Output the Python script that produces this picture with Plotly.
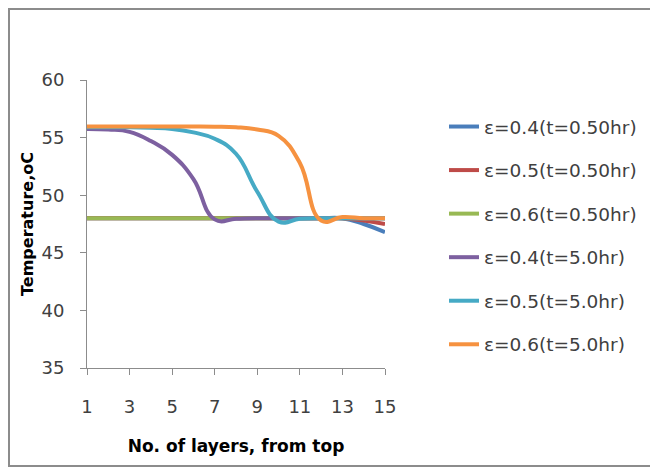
import plotly.graph_objects as go

layers = list(range(1, 16))

eps04_t05 = [48, 48, 48, 48, 48, 48, 48, 48, 48, 48, 48, 48, 48.0, 47.5, 46.8]
eps05_t05 = [48, 48, 48, 48, 48, 48, 48, 48, 48, 48, 48, 48, 48.0, 47.8, 47.5]
eps06_t05 = [48, 48, 48, 48, 48, 48, 48, 48, 48, 48, 48, 48, 48, 48, 48]
eps04_t5 = [55.75, 55.7, 55.5, 54.7, 53.5, 51.4, 47.9, 47.95, 48, 48, 48, 48, 48, 48, 48]
eps05_t5 = [55.9, 55.9, 55.9, 55.85, 55.75, 55.45, 54.9, 53.6, 50.3, 47.7, 47.95, 48, 48, 48, 48]
eps06_t5 = [55.96, 55.96, 55.96, 55.96, 55.96, 55.96, 55.95, 55.9, 55.7, 55.15, 52.8, 47.8, 48.1, 48, 48]

names = ["ε=0.4(t=0.50hr)", "ε=0.5(t=0.50hr)", "ε=0.6(t=0.50hr)",
         "ε=0.4(t=5.0hr)", "ε=0.5(t=5.0hr)", "ε=0.6(t=5.0hr)"]
series = [eps04_t05, eps05_t05, eps06_t05, eps04_t5, eps05_t5, eps06_t5]
colors = ["#4A7EBB", "#BE4B48", "#98B954", "#7D60A0", "#46AAC5", "#F69240"]

y_ticks = [35, 40, 45, 50, 55, 60]
x_ticks = [1, 3, 5, 7, 9, 11, 13, 15]

FONT = "DejaVu Sans"

fig = go.Figure()
for i, (nm, ys, c) in enumerate(zip(names, series, colors)):
    fig.add_trace(go.Scatter(
        x=layers, y=ys, name=nm, mode="lines",
        line=dict(color=c, width=4, shape="spline", smoothing=1.3),
        legendgroup=f"g{i}",
    ))

# page body has an 8px margin, so figure coordinates = page coordinates - 8
OFF = 8
W, H = 658 - OFF, 470 - OFF
L, R, T, B = 87 - OFF, 385 - OFF, 80 - OFF, 368 - OFF
pw, ph = R - L, B - T

def px_x(x):
    return (x - OFF - L) / pw

def px_y(y):
    return (B - (y - OFF)) / ph

fig.update_layout(
    width=W, height=H,
    margin=dict(l=L, r=W - R, t=T, b=H - B, pad=0, autoexpand=False),
    paper_bgcolor="white", plot_bgcolor="white",
    font=dict(family=FONT, size=18, color="#404040"),
    showlegend=True,
    legend=dict(
        x=px_x(444), y=px_y(108), xanchor="left", yanchor="top",
        font=dict(family=FONT, size=18.5, color="#404040"),
        tracegroupgap=16.5, bgcolor="rgba(0,0,0,0)", borderwidth=0,
        itemwidth=30,
    ),
    xaxis=dict(
        range=[1, 15], tickmode="array", tickvals=x_ticks,
        ticktext=[str(v) for v in x_ticks],
        showgrid=False, zeroline=False, automargin=False,
        showline=True, linecolor="#8c8c8c", linewidth=1,
        ticks="outside", ticklen=6, tickcolor="#8c8c8c",
        ticklabelstandoff=16,
        tickfont=dict(family=FONT, size=18, color="#404040"),
        title=dict(text="<b>No. of layers, from top</b>",
                   font=dict(family=FONT, size=17, color="#000000"),
                   standoff=24),
    ),
    yaxis=dict(
        range=[35, 60], tickmode="array", tickvals=y_ticks,
        showgrid=False, zeroline=False, automargin=False,
        showline=True, linecolor="#8c8c8c", linewidth=1,
        ticks="outside", ticklen=6, tickcolor="#8c8c8c",
        ticklabelstandoff=12,
        tickfont=dict(family=FONT, size=18, color="#404040"),
        title=dict(text="<b>Temperature,oC</b>",
                   font=dict(family=FONT, size=16, color="#000000"),
                   standoff=3),
    ),
    shapes=[dict(
        type="rect", xref="paper", yref="paper",
        x0=px_x(9), x1=px_x(664), y0=px_y(466), y1=px_y(9),
        line=dict(color="#8c8c8c", width=2), fillcolor="rgba(0,0,0,0)",
        layer="below",
    )],
)

fig.write_html("out.html")
